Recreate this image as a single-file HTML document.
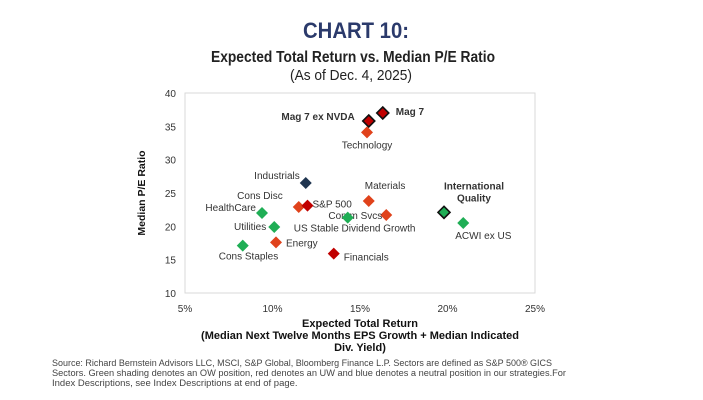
<!DOCTYPE html>
<html><head><meta charset="utf-8"><style>
body{margin:0;background:#fff;width:703px;height:400px;overflow:hidden;font-family:"Liberation Sans",sans-serif}
svg{display:block}
</style></head><body>
<svg id="c" width="703" height="400">
<text x="356" y="38" text-anchor="middle" font-size="22" font-weight="bold" fill="#2b3a6b" textLength="106" lengthAdjust="spacingAndGlyphs">CHART 10:</text>
<text x="353" y="62" text-anchor="middle" font-size="16" font-weight="bold" fill="#222" textLength="284" lengthAdjust="spacingAndGlyphs">Expected Total Return vs. Median P/E Ratio</text>
<text x="351" y="80" text-anchor="middle" font-size="15" fill="#222" textLength="122" lengthAdjust="spacingAndGlyphs">(As of Dec. 4, 2025)</text>
<rect x="185" y="93" width="350" height="200" fill="none" stroke="#d9d9d9"/>
<g id="ticks"></g>
<g id="marks"></g>
<text transform="translate(145,193) rotate(-90)" text-anchor="middle" font-size="10.5" font-weight="bold" fill="#111">Median P/E Ratio</text>
<g font-size="11" font-weight="bold" fill="#111" text-anchor="middle">
<text x="360" y="327">Expected Total Return</text>
<text x="360" y="339">(Median Next Twelve Months EPS Growth + Median Indicated</text>
<text x="360" y="351">Div. Yield)</text>
</g>
<g font-size="9.5" fill="#444">
<text x="52" y="366" textLength="500" lengthAdjust="spacingAndGlyphs">Source: Richard Bernstein Advisors LLC, MSCI, S&amp;P Global, Bloomberg Finance L.P. Sectors are defined as S&amp;P 500® GICS</text>
<text x="52" y="376" textLength="514" lengthAdjust="spacingAndGlyphs">Sectors. Green shading denotes an OW position, red denotes an UW and blue denotes a neutral position in our strategies.For</text>
<text x="52" y="386">Index Descriptions, see Index Descriptions at end of page.</text>
</g>
</svg>
<script>
const names=["Mag 7","Mag 7 ex NVDA","Technology","Industrials","Materials","Cons Disc","S&P 500","HealthCare","Comm Svcs","International Quality","US Stable Dividend Growth","ACWI ex US","Utilities","Energy","Cons Staples","Financials"];
const returns=[16.3,15.5,15.4,11.9,15.5,11.5,12.0,9.4,16.5,19.8,14.3,20.9,10.1,10.2,8.3,13.5];
const peRatios=[37.0,35.8,34.1,26.5,23.8,22.9,23.1,22.0,21.7,22.1,21.3,20.5,19.9,17.6,17.1,15.9];
const colorKeys=["dr","dr","or","nv","or","or","dr","gr","or","gr","gr","gr","gr","or","gr","dr"];
const xTicks=[5,10,15,20,25];
const yTicks=[10,15,20,25,30,35,40];
const COL={dr:"#c00000",or:"#e0421b",nv:"#1f3550",gr:"#1fae55"};
const outlined=[0,1,9];
const LAB=[[13,2,"start",1],[-14,-1,"end",1],[0,16,"middle",0],[-6,-4,"end",0],[-4,-12,"start",0],[-16,-8,"end",0],[5,2,"start",0],[-6,-2,"end",0],[-4,4,"end",0],[30,-23,"middle",1],[-54,14,"start",0],[-8,16,"start",0],[-8,3,"end",0],[10,4,"start",0],[-24,14,"start",0],[10,7,"start",0]];
const X=v=>185+(v-5)/20*350, Y=v=>293-(v-10)/30*200;
const NS="http://www.w3.org/2000/svg";
const tg=document.getElementById("ticks"), mg=document.getElementById("marks");
function t(p,x,y,s,anchor,bold){const e=document.createElementNS(NS,"text");e.setAttribute("x",x);e.setAttribute("y",y);e.setAttribute("text-anchor",anchor);e.setAttribute("font-size",10);if(bold)e.setAttribute("font-weight","bold");e.setAttribute("fill","#333");e.textContent=s;p.appendChild(e);return e;}
xTicks.forEach(v=>{const e=t(tg,X(v),312,v+"%","middle");

});
yTicks.forEach(v=>{const e=t(tg,176,Y(v)+4,v,"end");

});
names.forEach((n,i)=>{const x=X(returns[i]),y=Y(peRatios[i]);const s=6;
const p=document.createElementNS(NS,"polygon");
p.setAttribute("points",`${x},${y-s} ${x+s},${y} ${x},${y+s} ${x-s},${y}`);
p.setAttribute("fill",COL[colorKeys[i]]);
if(outlined.includes(i)){p.setAttribute("stroke","#111");p.setAttribute("stroke-width","1.6");}


mg.appendChild(p);
const L=LAB[i];
if(i===9){const a=t(mg,x+L[0],y+L[1],"International","middle",1);t(mg,x+L[0],y+L[1]+12,"Quality","middle",1);

}
else{const e=t(mg,x+L[0],y+L[1],n,L[2],L[3]);

}
});
</script>
</body></html>
